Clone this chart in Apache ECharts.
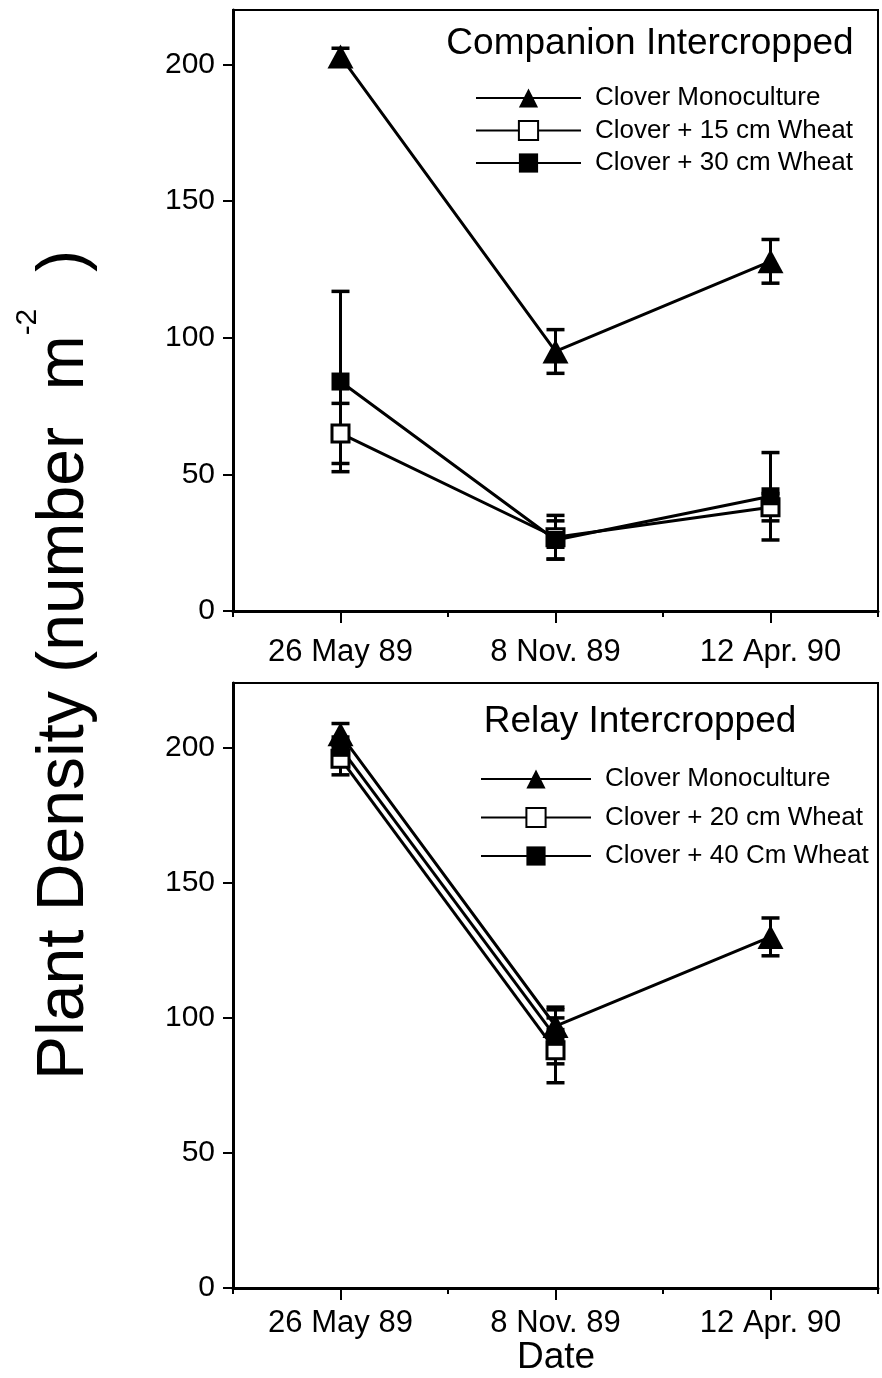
<!DOCTYPE html>
<html>
<head>
<meta charset="utf-8">
<script src="https://cdn.jsdelivr.net/npm/echarts@6/dist/echarts.min.js"></script>
<style>
  html, body { margin: 0; padding: 0; background: #fff; }
  #chart { width: 882px; height: 1378px; }
</style>
</head>
<body>
<div id="chart"></div>
<script>
const FONT = 'Liberation Sans'

const categories = ['26 May 89', '8 Nov. 89', '12 Apr. 90']
const yTicks = [0, 50, 100, 150, 200]

// Companion intercropped (top panel)
const compMono = [203, 95, 128]
const compMonoErr = [3, 8, 8]
const comp15 = [65, 27, 38]
const comp15Err = [11, 8, 5]
const comp30 = [84, 26, 42]
const comp30Err = [33, 7, 16]

// Relay intercropped (bottom panel)
const relayMono = [205, 97, 130]
const relayMonoErr = [4, 7, 7]
const relay20 = [196, 88, null]
const relay20Err = [6, 12, null]
const relay40 = [200, 93, null]
const relay40Err = [4, 10, null]

const errData = (means, errs) => means
  .map((m, i) => m == null ? null : [i, m - errs[i], m + errs[i]])
  .filter(d => d)

function errorBar(params, api) {
  const x = api.value(0)
  const hi = api.coord([x, api.value(2)])
  const lo = api.coord([x, api.value(1)])
  const w = 9
  const st = { stroke: '#000', lineWidth: 3 }
  return {
    type: 'group',
    children: [
      { type: 'line', shape: { x1: hi[0], y1: hi[1], x2: lo[0], y2: lo[1] }, style: st },
      { type: 'line', shape: { x1: hi[0] - w, y1: hi[1], x2: hi[0] + w, y2: hi[1] }, style: { stroke: '#000', lineWidth: 3.5 } },
      { type: 'line', shape: { x1: lo[0] - w, y1: lo[1], x2: lo[0] + w, y2: lo[1] }, style: { stroke: '#000', lineWidth: 3.5 } }
    ]
  }
}

const markers = {
  mono: { symbol: 'triangle', symbolSize: [26, 24], itemStyle: { color: '#000', borderWidth: 0 } },
  open: { symbol: 'rect', symbolSize: 17, itemStyle: { color: '#fff', borderColor: '#000', borderWidth: 3 } },
  filled: { symbol: 'rect', symbolSize: 18, itemStyle: { color: '#000', borderWidth: 0 } }
}

function lineSeries(name, data, mark, idx) {
  return Object.assign({
    type: 'line', name: name, data: data,
    xAxisIndex: idx * 2, yAxisIndex: idx,
    lineStyle: { color: '#000', width: 3 },
    connectNulls: false, z: 3, animation: false
  }, markers[mark])
}

function errSeries(means, errs, idx) {
  return {
    type: 'custom', renderItem: errorBar, data: errData(means, errs),
    xAxisIndex: idx * 2, yAxisIndex: idx, encode: { x: 0, y: [1, 2] },
    z: 2, animation: false, silent: true
  }
}

const grids = [
  { left: 233, top: 10, width: 645, height: 601 },
  { left: 233, top: 683, width: 645, height: 605 }
]
const yMax = [220, 224]

const xAxes = []
const yAxes = []
grids.forEach((g, i) => {
  xAxes.push({
    type: 'category', gridIndex: i, data: categories, boundaryGap: true,
    axisLine: { lineStyle: { color: '#000', width: 3 } },
    axisTick: { show: true, length: 6, lineStyle: { color: '#000', width: 2 } },
    axisLabel: { color: '#000', fontFamily: FONT, fontSize: 31, margin: i === 0 ? 26 : 20 }
  })
  xAxes.push({
    type: 'category', gridIndex: i, data: categories, boundaryGap: true, position: 'bottom',
    axisLine: { show: false },
    axisTick: { show: true, alignWithLabel: true, length: 12, lineStyle: { color: '#000', width: 2 } },
    axisLabel: { show: false }
  })
  yAxes.push({
    type: 'value', gridIndex: i, min: 0, max: yMax[i],
    splitLine: { show: false },
    axisLine: { show: true, lineStyle: { color: '#000', width: 3 } },
    axisTick: { show: true, length: 10, customValues: yTicks, lineStyle: { color: '#000', width: 2 } },
    axisLabel: { color: '#000', fontFamily: FONT, fontSize: 30, margin: 18, customValues: yTicks }
  })
})

const legendBase = {
  orient: 'vertical', itemWidth: 105, itemHeight: 24, padding: 0,
  selectedMode: false,
  textStyle: { color: '#000', fontFamily: FONT, fontSize: 26, lineHeight: 26, padding: [0, 0, 0, 9] }
}

const option = {
  backgroundColor: '#fff',
  animation: false,
  grid: grids.map(g => Object.assign({ show: true, borderColor: '#000', borderWidth: 2, containLabel: false }, g)),
  xAxis: xAxes,
  yAxis: yAxes,
  legend: [
    Object.assign({}, legendBase, {
      left: 475, top: 85, itemGap: 6.5,
      data: ['Clover Monoculture', 'Clover + 15 cm Wheat', 'Clover + 30 cm Wheat']
    }),
    Object.assign({}, legendBase, {
      left: 480, top: 766, itemWidth: 110, itemGap: 12.5,
      data: ['Clover Monoculture', 'Clover + 20 cm Wheat', 'Clover + 40 Cm Wheat']
    })
  ],
  graphic: [
    { type: 'text', x: 650, y: 44, style: { text: 'Companion Intercropped', fontFamily: FONT, fontSize: 37, fill: '#000', align: 'center', verticalAlign: 'middle' } },
    { type: 'text', x: 640, y: 722, style: { text: 'Relay Intercropped', fontFamily: FONT, fontSize: 37, fill: '#000', align: 'center', verticalAlign: 'middle' } },
    { type: 'text', x: 556, y: 1358, style: { text: 'Date', fontFamily: FONT, fontSize: 37, fill: '#000', align: 'center', verticalAlign: 'middle' } },
    {
      type: 'text', x: 65, y: 665, rotation: Math.PI / 2,
      style: {
        text: '{a|Plant Density (number  m}{s|-2}{a|  )}',
        fontFamily: FONT, fontSize: 66, fill: '#000', align: 'center', verticalAlign: 'middle',
        rich: {
          a: { fontFamily: FONT, fontSize: 66, lineHeight: 104, fill: '#000' },
          s: { fontFamily: FONT, fontSize: 30, lineHeight: 30, verticalAlign: 'top', fill: '#000' }
        }
      }
    }
  ],
  series: [
    errSeries(compMono, compMonoErr, 0),
    errSeries(comp15, comp15Err, 0),
    errSeries(comp30, comp30Err, 0),
    lineSeries('Clover Monoculture', compMono, 'mono', 0),
    lineSeries('Clover + 15 cm Wheat', comp15, 'open', 0),
    lineSeries('Clover + 30 cm Wheat', comp30, 'filled', 0),
    errSeries(relayMono, relayMonoErr, 1),
    errSeries(relay20, relay20Err, 1),
    errSeries(relay40, relay40Err, 1),
    lineSeries('Clover Monoculture', relayMono, 'mono', 1),
    lineSeries('Clover + 20 cm Wheat', relay20, 'open', 1),
    lineSeries('Clover + 40 Cm Wheat', relay40, 'filled', 1)
  ]
}

const chart = echarts.init(document.getElementById('chart'))
chart.setOption(option)
</script>
</body>
</html>
